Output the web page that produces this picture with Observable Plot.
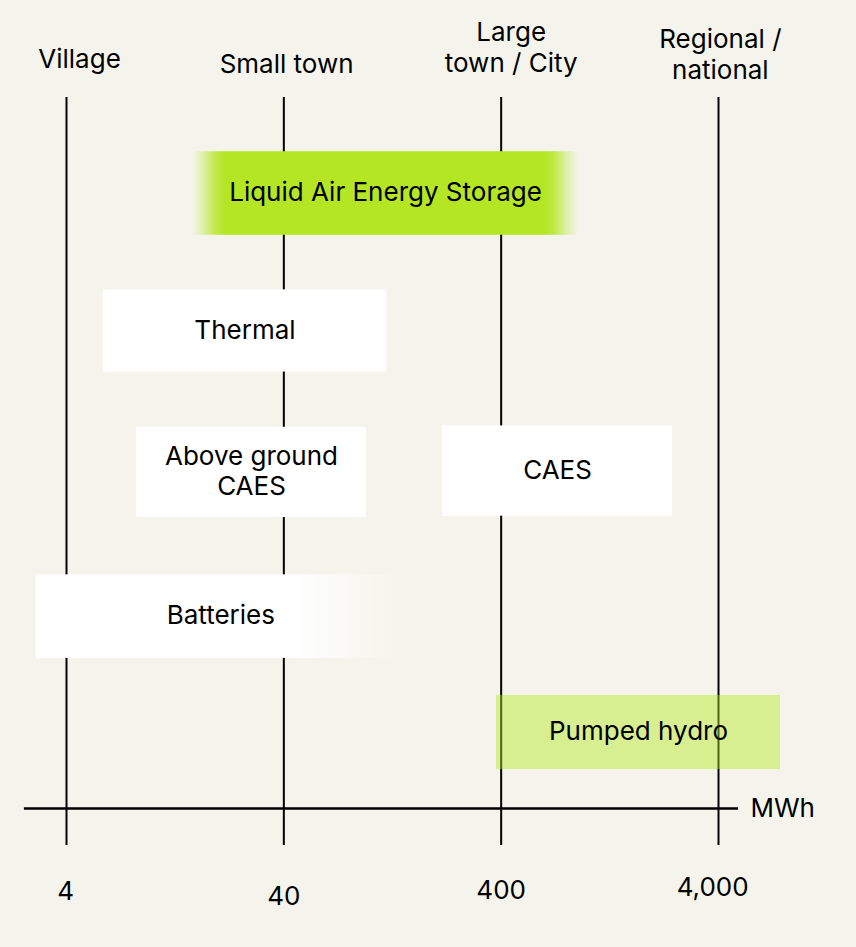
<!DOCTYPE html>
<html><head><meta charset="utf-8">
<script src="https://cdn.jsdelivr.net/npm/d3@7"></script>
<script src="https://cdn.jsdelivr.net/npm/@observablehq/plot@0.6"></script>
<style>
html,body{margin:0;padding:0;background:#f5f4ec;}
svg{display:block;}
</style></head>
<body><div id="chart"></div>
<script>
// ---- data ----
const technologies = ["Liquid Air Energy Storage", "Thermal", "Above ground\nCAES", "CAES", "Batteries", "Pumped hydro"];
const minMWh = [15.2, 5.9, 8.4, 215, 2.9, 381];
const maxMWh = [908, 119, 96, 2457, 145, 7713];
const rowLevel = [0, 1.02, 2.07, 2.06, 3.14, 4];
const barKind = ["highlight", "plain", "plain", "plain", "fade", "tint"];
const tickValues = [4, 40, 400, 4000];
const tickLabels = ["4", "40", "400", "4,000"];
const scaleLabels = ["Village", "Small town", "Large\ntown / City", "Regional /\nnational"];
const unitLabel = "MWh";

const bars = technologies.map((name, i) => ({
  name, min: minMWh[i], max: maxMWh[i], row: rowLevel[i], kind: barKind[i]
}));
const ticks = tickValues.map((v, i) => ({v, label: tickLabels[i], scale: scaleLabels[i]}));

// ---- style ----
const thick = {highlight: 0.62, plain: 0.62, fade: 0.62, tint: 0.55};
const thickByName = {"Above ground\nCAES": 0.67, "CAES": 0.67, "Thermal": 0.61};
const th = d => thickByName[d.name] ?? thick[d.kind];
const lime = "#b4e623";
const labelYOffset = [-1.009, -0.972, -1.091, -1.039];
const labelXFactor = [1.148, 1.03, 1.112, 1.02];
const tickYOffset = [5.18, 5.217, 5.172, 5.15];
const tickXFactor = [0.99, 1.0, 1.0, 0.94];
const FS = 26;

const chart = Plot.plot({
  width: 856,
  height: 947,
  margin: 0,
  style: {background: "#f5f4ec", fontFamily: "Inter, 'Noto Sans', sans-serif", color: "#000"},
  x: {type: "log", domain: [4, 4000], range: [66, 718], axis: null},
  y: {domain: [0, 4], range: [193, 732], axis: null},
  marks: [
    Plot.ruleX(ticks, {x: "v", y1: -0.712, y2: 4.838, stroke: "#000", strokeWidth: 2}),
    Plot.ruleY([4.564], {y: d => d, x1: 2.56, x2: 4945, stroke: "#000", strokeWidth: 2.5}),
    Plot.rect(bars.filter(d => d.kind === "plain"), {
      x1: "min", x2: "max", y1: d => d.row - th(d) / 2, y2: d => d.row + th(d) / 2, fill: "#ffffff"
    }),
    Plot.rect(bars.filter(d => d.kind === "highlight"), {
      x1: "min", x2: "max", y1: d => d.row - th(d) / 2, y2: d => d.row + th(d) / 2, fill: lime, className: "bar-laes"
    }),
    Plot.rect(bars.filter(d => d.kind === "fade"), {
      x1: "min", x2: "max", y1: d => d.row - th(d) / 2, y2: d => d.row + th(d) / 2, fill: "#ffffff", className: "bar-batt"
    }),
    Plot.rect(bars.filter(d => d.kind === "tint"), {
      x1: "min", x2: "max", y1: d => d.row - th(d) / 2, y2: d => d.row + th(d) / 2, fill: lime, fillOpacity: 0.45
    }),
    Plot.text(bars, {
      x: d => Math.sqrt(d.min * d.max), y: "row", text: "name",
      fontSize: FS, lineHeight: 1.15, fill: "#000", dy: -2
    }),
    Plot.text(ticks, {
      x: (d, i) => d.v * labelXFactor[i], y: (d, i) => labelYOffset[i], text: "scale",
      fontSize: FS, lineHeight: 1.2, fill: "#000"
    }),
    Plot.text(ticks, {
      x: (d, i) => d.v * tickXFactor[i], y: (d, i) => tickYOffset[i], text: "label",
      fontSize: FS, fill: "#000"
    }),
    Plot.text([unitLabel], {
      x: 5612, y: 4.564, text: d => d, textAnchor: "start", fontSize: FS, fill: "#000"
    })
  ]
});

const svg = d3.select(chart);
const defs = svg.insert("defs", ":first-child");
const g1 = defs.append("linearGradient").attr("id", "gLaes").attr("x1", 0).attr("x2", 1).attr("y1", 0).attr("y2", 0);
[[0, 0], [0.03, 0.35], [0.06, 0.8], [0.085, 1], [0.915, 1], [0.94, 0.8], [0.97, 0.35], [1, 0]].forEach(([o, a]) =>
  g1.append("stop").attr("offset", o).attr("stop-color", lime).attr("stop-opacity", a));
const g2 = defs.append("linearGradient").attr("id", "gBatt").attr("x1", 0).attr("x2", 1).attr("y1", 0).attr("y2", 0);
[[0, 1], [0.7, 1], [0.82, 0.6], [0.92, 0.2], [1, 0]].forEach(([o, a]) =>
  g2.append("stop").attr("offset", o).attr("stop-color", "#ffffff").attr("stop-opacity", a));
svg.selectAll(".bar-laes rect").attr("fill", "url(#gLaes)");
svg.selectAll(".bar-batt rect").attr("fill", "url(#gBatt)");
svg.selectAll("g.bar-laes").attr("fill", null);
svg.selectAll("g.bar-batt").attr("fill", null);

document.getElementById("chart").appendChild(chart);
</script>
</body></html>
